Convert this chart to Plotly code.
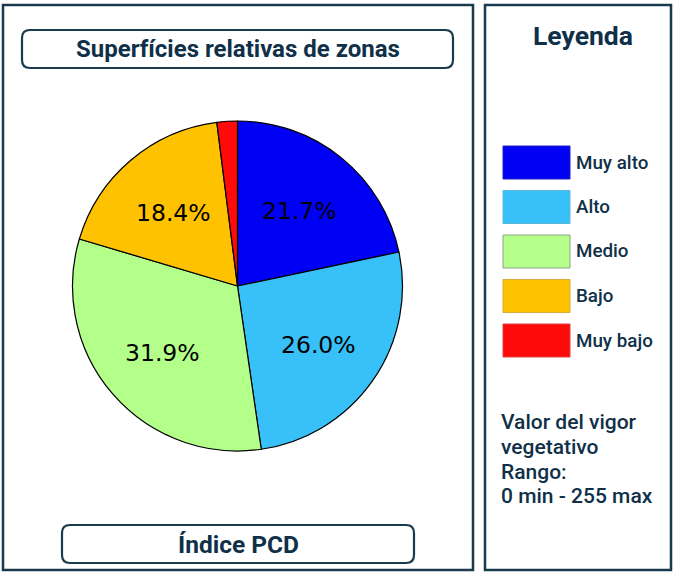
import math
import plotly.graph_objects as go

# ---- data ----
categories = ["Muy alto", "Alto", "Medio", "Bajo", "Muy bajo"]
values = [21.7, 26.0, 31.9, 18.4, 2.0]
colors = ["#0000F5", "#38C0F8", "#B3FF8A", "#FFC200", "#FF0A0A"]
swatch_lines = ["#2020C0", "#5BB8D8", "#8FA08A", "#D9A93A", "#E04040"]
pct_labels = ["21.7%", "26.0%", "31.9%", "18.4%", ""]
title_text = "Superfícies relativas de zonas"
subtitle_text = "Índice PCD"
legend_title = "Leyenda"
info_lines = ["Valor del vigor", "vegetativo", "Rango:", "0 min - 255 max"]

W, H = 674, 573
BORDER = "#1a3a4d"
TXT = "#0f3048"


def px(x):
    return x / W


def py(y):
    return 1 - y / H


fig = go.Figure()

cx, cy, r = 237.5, 286.0, 165.0
fig.add_trace(go.Pie(
    labels=categories, values=values,
    textinfo="none",
    sort=False, direction="clockwise", rotation=0,
    marker=dict(colors=colors, line=dict(color="black", width=1.2)),
    domain=dict(x=[px(cx - r), px(cx + r)], y=[py(cy + r), py(cy - r)]),
    showlegend=False, hoverinfo="label+percent",
))


def rrect(x0, y0, x1, y1, rad):
    X0, X1, Y0, Y1 = px(x0), px(x1), py(y0), py(y1)
    rx, ry = rad / W, rad / H
    return (f"M {X0+rx},{Y0} L {X1-rx},{Y0} Q {X1},{Y0} {X1},{Y0-ry} "
            f"L {X1},{Y1+ry} Q {X1},{Y1} {X1-rx},{Y1} L {X0+rx},{Y1} "
            f"Q {X0},{Y1} {X0},{Y1+ry} L {X0},{Y0-ry} Q {X0},{Y0} {X0+rx},{Y0} Z")


def prect(x0, y0, x1, y1, **kw):
    return dict(type="rect", xref="paper", yref="paper",
                x0=px(x0), x1=px(x1), y0=py(y1), y1=py(y0), **kw)


shapes = [
    prect(3, 5, 473, 570, line=dict(color=BORDER, width=2.5)),
    prect(485, 5, 671, 570, line=dict(color=BORDER, width=2.5)),
    dict(type="path", xref="paper", yref="paper", path=rrect(22, 30, 453, 68, 8),
         line=dict(color=BORDER, width=2.2)),
    dict(type="path", xref="paper", yref="paper", path=rrect(62, 525, 414, 563, 8),
         line=dict(color=BORDER, width=2.2)),
]


def ann(x, y, text, size, xanchor="center", weight=None, family="Roboto", color=TXT):
    f = dict(family=family, size=size, color=color)
    if weight:
        f["weight"] = weight
    return dict(xref="paper", yref="paper", x=px(x), y=py(y), text=text,
                showarrow=False, xanchor=xanchor, yanchor="middle", font=f)


annotations = [
    ann(238.5, 49, f"<b>{title_text}</b>", 24),
    ann(238, 544, f"<b>{subtitle_text}</b>", 24.5),
    ann(583, 36, f"<b>{legend_title}</b>", 26.5),
]

# percentage labels placed at 0.6 radius of each slice's mid-angle
total = sum(values)
cum = 0.0
for v, lab in zip(values, pct_labels):
    mid = (cum + v / 2) / total * 2 * math.pi
    cum += v
    if lab:
        annotations.append(ann(cx + 0.6 * r * math.sin(mid), cy - 0.6 * r * math.cos(mid) + 2,
                               lab, 23.5, family="DejaVu Sans", color="black"))

for i, (cat, col, lc) in enumerate(zip(categories, colors, swatch_lines)):
    y0 = 146 + i * 44.5
    shapes.append(prect(503, y0, 570, y0 + 33, fillcolor=col, line=dict(color=lc, width=1)))
    annotations.append(ann(574, y0 + 16.5, cat, 18.8, xanchor="left", weight=500))
for j, line in enumerate(info_lines):
    annotations.append(ann(499, 422 + j * 24.8, line, 21, xanchor="left", weight=500))

fig.update_layout(
    width=W, height=H, margin=dict(l=0, r=0, t=0, b=0),
    paper_bgcolor="white", plot_bgcolor="white",
    shapes=shapes, annotations=annotations,
)
fig.write_html("out.html", config={"displayModeBar": False},
               post_script="document.body.style.margin='0';")
